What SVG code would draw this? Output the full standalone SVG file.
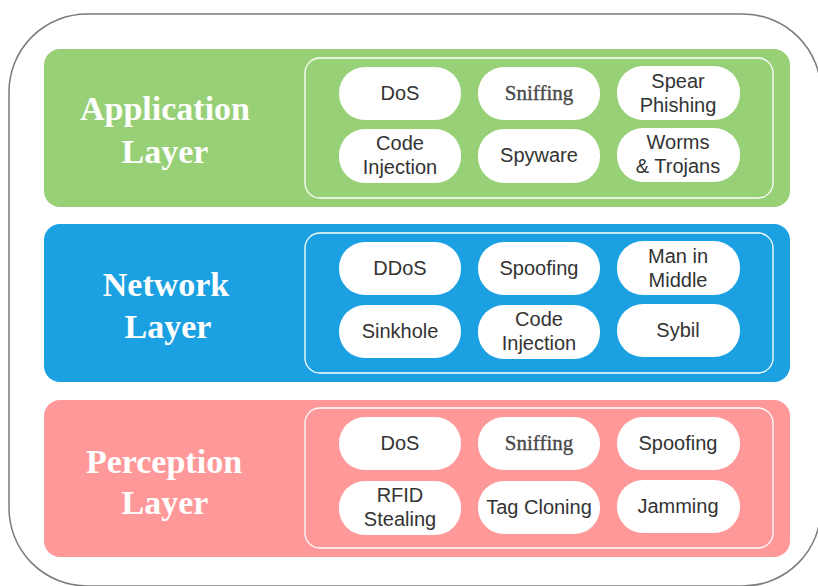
<svg xmlns="http://www.w3.org/2000/svg" width="818" height="586" viewBox="0 0 818 586">
  <style>
    .frame { fill: #ffffff; stroke: #7a7a7a; stroke-width: 1.5; }
    .band { stroke: none; }
    .inner { fill: none; stroke: #ffffff; stroke-width: 1.3; }
    .pill { fill: #ffffff; stroke: none; }
    .title { font-family: "Liberation Serif", "Times New Roman", serif; font-weight: bold; font-size: 34px; fill: #ffffff; text-anchor: middle; }
    .lbl { font-family: "Liberation Sans", Arial, sans-serif; font-size: 20px; fill: #333333; text-anchor: middle; }
    .lbl-serif { font-family: "Liberation Serif", "Times New Roman", serif; font-size: 21px; fill: #4a4a4a; stroke: #4a4a4a; stroke-width: 0.35; text-anchor: middle; }
  </style>

  <!-- outer frame -->
  <rect class="frame" x="9" y="14" width="812" height="572" rx="78" ry="78"/>

  <!-- Application layer -->
  <g id="application-layer">
    <rect class="band" x="44" y="49" width="746" height="158" rx="16" fill="#97D077"/>
    <rect class="inner" x="305" y="58" width="468" height="140" rx="15"/>
    <text class="title" x="165" y="120">Application</text>
    <text class="title" x="165" y="163">Layer</text>
  </g>
  <g id="app-dos"><rect class="pill" x="339" y="67" width="122" height="53" rx="26"/><text class="lbl" x="400" y="100">DoS</text></g>
  <g id="app-sniffing"><rect class="pill" x="478" y="67" width="122" height="53" rx="26"/><text class="lbl-serif" x="539" y="100">Sniffing</text></g>
  <g id="app-spear"><rect class="pill" x="617" y="66" width="123" height="54" rx="26"/><text class="lbl" x="678" y="88">Spear</text><text class="lbl" x="678" y="112">Phishing</text></g>
  <g id="app-code"><rect class="pill" x="339" y="129" width="122" height="54" rx="26"/><text class="lbl" x="400" y="150">Code</text><text class="lbl" x="400" y="174">Injection</text></g>
  <g id="app-spyware"><rect class="pill" x="478" y="129" width="122" height="54" rx="26"/><text class="lbl" x="539" y="162">Spyware</text></g>
  <g id="app-worms"><rect class="pill" x="617" y="128" width="123" height="54" rx="26"/><text class="lbl" x="678" y="149">Worms</text><text class="lbl" x="678" y="173">&amp; Trojans</text></g>

  <!-- Network layer -->
  <g id="network-layer">
    <rect class="band" x="44" y="224" width="746" height="158" rx="16" fill="#1BA1E2"/>
    <rect class="inner" x="305" y="233" width="468" height="140" rx="15"/>
    <text class="title" x="166" y="296">Network</text>
    <text class="title" x="168" y="338">Layer</text>
  </g>
  <g id="net-ddos"><rect class="pill" x="339" y="242" width="122" height="53" rx="26"/><text class="lbl" x="400" y="275">DDoS</text></g>
  <g id="net-spoofing"><rect class="pill" x="478" y="242" width="122" height="53" rx="26"/><text class="lbl" x="539" y="275">Spoofing</text></g>
  <g id="net-mitm"><rect class="pill" x="617" y="241" width="123" height="54" rx="26"/><text class="lbl" x="678" y="263">Man in</text><text class="lbl" x="678" y="287">Middle</text></g>
  <g id="net-sinkhole"><rect class="pill" x="339" y="305" width="122" height="53" rx="26"/><text class="lbl" x="400" y="338">Sinkhole</text></g>
  <g id="net-code"><rect class="pill" x="478" y="305" width="122" height="54" rx="26"/><text class="lbl" x="539" y="326">Code</text><text class="lbl" x="539" y="350">Injection</text></g>
  <g id="net-sybil"><rect class="pill" x="617" y="304" width="123" height="53" rx="26"/><text class="lbl" x="678" y="337">Sybil</text></g>

  <!-- Perception layer -->
  <g id="perception-layer">
    <rect class="band" x="44" y="400" width="746" height="157" rx="16" fill="#FF9999"/>
    <rect class="inner" x="305" y="408" width="468" height="140" rx="15"/>
    <text class="title" x="164" y="473">Perception</text>
    <text class="title" x="165" y="514">Layer</text>
  </g>
  <g id="per-dos"><rect class="pill" x="339" y="417" width="122" height="53" rx="26"/><text class="lbl" x="400" y="450">DoS</text></g>
  <g id="per-sniffing"><rect class="pill" x="478" y="417" width="122" height="53" rx="26"/><text class="lbl-serif" x="539" y="450">Sniffing</text></g>
  <g id="per-spoofing"><rect class="pill" x="617" y="417" width="123" height="53" rx="26"/><text class="lbl" x="678" y="450">Spoofing</text></g>
  <g id="per-rfid"><rect class="pill" x="339" y="481" width="122" height="54" rx="26"/><text class="lbl" x="400" y="502">RFID</text><text class="lbl" x="400" y="526">Stealing</text></g>
  <g id="per-tag"><rect class="pill" x="478" y="481" width="122" height="53" rx="26"/><text class="lbl" x="539" y="514">Tag Cloning</text></g>
  <g id="per-jamming"><rect class="pill" x="617" y="480" width="123" height="53" rx="26"/><text class="lbl" x="678" y="513">Jamming</text></g>

  <!-- no connectors in this layered diagram -->
  <g id="connectors"/>
</svg>
